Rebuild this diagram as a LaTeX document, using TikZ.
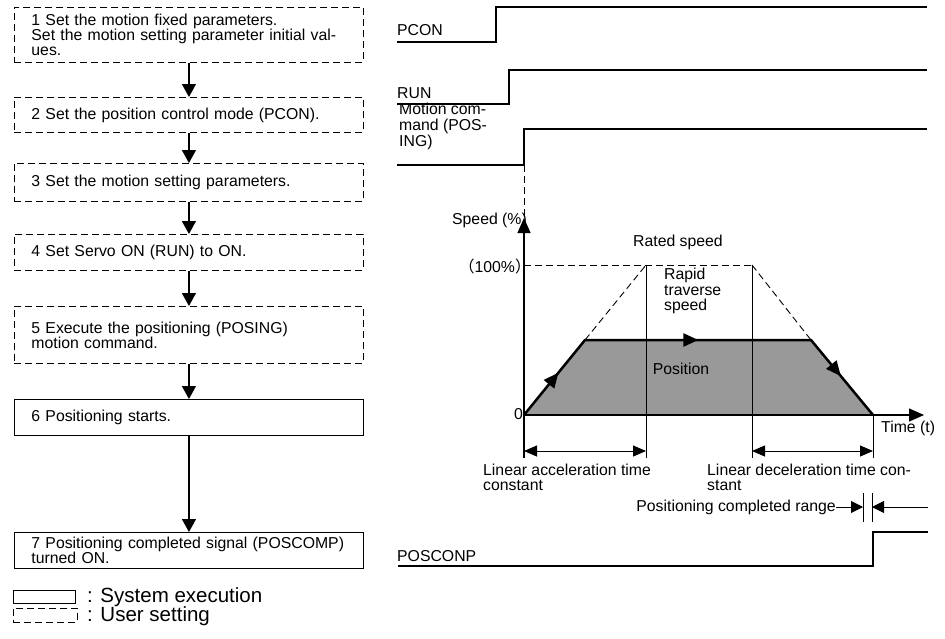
\documentclass[tikz,border=0pt]{standalone}
\usepackage{fontspec}
\setmainfont{Liberation Sans}
\newfontfamily\cjkfont{Noto Sans CJK SC}
\usepackage{xcolor}
\usepackage{tikz}
\usetikzlibrary{arrows.meta,decorations.markings}
\definecolor{posgray}{HTML}{999999}

\tikzset{
  txt/.style={font=\fontsize{15.8}{15}\selectfont,inner sep=0pt},
  flowbox/.style={draw,line width=0.9pt,text width=315pt,inner xsep=17pt,inner ysep=2pt,
    align=left,anchor=north west,font=\fontsize{15.8}{15}\selectfont},
  userbox/.style={flowbox,dash pattern=on 7pt off 4pt},
  sysbox/.style={flowbox},
  flowarrow/.style={-{Triangle[length=13pt,width=14pt]},line width=1.3pt},
  signal/.style={line width=1.3pt},
  dimarrow/.style={{Triangle[length=13pt,width=11pt]}-{Triangle[length=13pt,width=11pt]},line width=0.9pt},
  rangearrow/.style={-{Triangle[length=12pt,width=12pt]},line width=0.9pt},
  axisarrow/.style={-{Triangle[length=15pt,width=13pt]},line width=1.3pt},
  guide/.style={dash pattern=on 7pt off 4pt,line width=0.9pt},
}

\begin{document}
\begin{tikzpicture}[x=1pt,y=-1pt]
  \useasboundingbox (0,0) rectangle (945,638);

  % flow chart
  \node[userbox,minimum height=55pt] (set1) at (14,7)
    {1 Set the motion fixed parameters.\\Set the motion setting parameter initial val-\\ues.};
  \node[userbox,minimum height=35pt] (set2) at (14,97) {2 Set the position control mode (PCON).};
  \node[userbox,minimum height=38pt] (set3) at (14,163) {3 Set the motion setting parameters.};
  \node[userbox,minimum height=36pt] (set4) at (14,234) {4 Set Servo ON (RUN) to ON.};
  \node[userbox,minimum height=57pt] (set5) at (14,306)
    {5 Execute the positioning (POSING)\\motion command.};
  \node[sysbox,minimum height=36pt] (sys6) at (14,399) {6 Positioning starts.};
  \node[sysbox,minimum height=36pt] (sys7) at (14,532)
    {7 Positioning completed signal (POSCOMP)\\turned ON.};
  \foreach \a/\b in {set1/set2,set2/set3,set3/set4,set4/set5,set5/sys6,sys6/sys7}
    \draw[flowarrow] (\a.south) -- (\b.north);

  % legend
  \node[draw,line width=0.9pt,minimum width=62pt,minimum height=13pt,inner sep=0pt,anchor=north west] (legsys) at (13,590) {};
  \node[draw,guide,minimum width=64pt,minimum height=14pt,inner sep=0pt,anchor=north west] (leguser) at (13,608) {};
  \node[anchor=west,inner sep=0pt,font=\fontsize{20.5}{22}\selectfont] (legsystxt) at (87,597) {: System execution};
  \node[anchor=west,inner sep=0pt,font=\fontsize{20.5}{22}\selectfont] (legusertxt) at (87,616) {: User setting};

  % signals
  \foreach \lo/\hi/\sx in {42/7/496, 104/70/509, 165/129/524}
    \draw[signal] (397,\lo) -- (\sx,\lo) -- (\sx,\hi) -- (927,\hi);
  \draw[signal] (398,566) -- (873,566) -- (873,532) -- (928,532);
  \node[txt,anchor=west] (pcon) at (397,30) {PCON};
  \node[txt,anchor=west] (run) at (397,93) {RUN};
  \node[txt,anchor=north west,align=left,font=\fontsize{15.8}{16}\selectfont] (posing) at (399,103)
    {Motion com-\\mand (POS-\\ING)};
  \node[txt,anchor=west] (poscomp) at (397,556) {POSCONP};

  % speed profile
  \fill[posgray] (524,415) -- (585,340) -- (811,340) -- (873,415) -- cycle;
  \draw[guide] (524,165) -- (524,218);
  \draw[guide] (524,265) -- (752,265);
  \draw[guide] (585,340) -- (646,265);
  \draw[guide] (752,265) -- (811,340);
  \foreach \x/\top in {646/265, 752/265, 873/415}
    \draw[line width=0.9pt] (\x,\top) -- (\x,458);
  \draw[axisarrow] (524,458) -- (524,218);
  \draw[axisarrow] (524,415) -- (924,415);
  \draw[line width=2.5pt,line join=miter,postaction={decorate},
    decoration={markings,
      mark=at position 0.13 with {\arrow{Triangle[length=15pt,width=13pt]}},
      mark=at position 0.5 with {\arrow{Triangle[length=15pt,width=13pt]}},
      mark=at position 0.88 with {\arrow{Triangle[length=15pt,width=13pt]}}}]
    (524,415) -- (585,340) -- (811,340) -- (873,415);

  \node[txt,anchor=east] (speed) at (527,220) {Speed (\%)};
  \node[txt,anchor=east] (rated) at (531,266) {{\cjkfont （}100\%{\cjkfont ）}};
  \node[txt,anchor=east] (zero) at (523,414) {0};
  \node[txt] (ratedtxt) at (678,242) {Rated speed};
  \node[txt,anchor=north west,align=left,font=\fontsize{15.8}{15.5}\selectfont] (rapid) at (664,268)
    {Rapid\\traverse\\speed};
  \node[txt] (position) at (681,369) {Position};
  \node[txt,anchor=west] (time) at (881,428) {Time (t)};

  % time constants
  \draw[dimarrow] (524,451) -- (646,451);
  \draw[dimarrow] (752,451) -- (873,451);
  \node[txt,anchor=north west,align=left] (acc) at (483,464) {Linear acceleration time\\constant};
  \node[txt,anchor=north west,align=left] (dec) at (707,464) {Linear deceleration time con-\\stant};

  % positioning completed range
  \node[txt,anchor=east] (range) at (836,507) {Positioning completed range};
  \draw[line width=0.9pt] (863,493) -- (863,522);
  \draw[line width=0.9pt] (872,493) -- (872,522);
  \coordinate (rangeL) at (863,507);
  \coordinate (rangeR) at (872,507);
  \coordinate (rangeEnd) at (928,507);
  \draw[rangearrow] (range.east) -- (rangeL);
  \draw[rangearrow] (rangeEnd) -- (rangeR);
\end{tikzpicture}
\end{document}
